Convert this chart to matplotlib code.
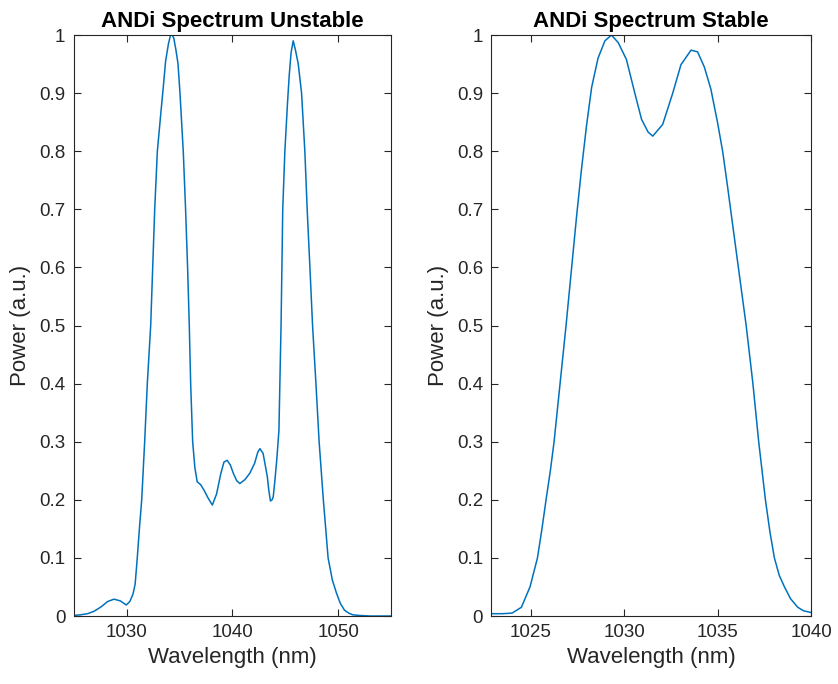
# ANDi spectra, unstable vs stable
import numpy as np
import matplotlib.pyplot as plt

plt.rcParams['font.family'] = ['Liberation Sans', 'DejaVu Sans']

# Unstable spectrum
wl_unstable = [1025, 1025.6, 1026.3, 1026.9, 1027.6, 1028.2, 1028.8, 1029.4, 1029.96, 1030.3,
               1030.6, 1030.8, 1031.0, 1031.2, 1031.42, 1031.7, 1031.95, 1032.27, 1032.46, 1032.65,
               1032.9, 1033.2, 1033.46, 1033.68, 1033.95, 1034.15, 1034.3, 1034.45, 1034.65, 1034.85,
               1035.04, 1035.35, 1035.57, 1035.76, 1035.92, 1036.05, 1036.24, 1036.45, 1036.67, 1037.0,
               1037.3, 1037.7, 1038.1, 1038.5, 1038.9, 1039.2, 1039.5, 1039.8, 1040.1, 1040.4,
               1040.7, 1041.2, 1041.65, 1042.1, 1042.4, 1042.6, 1042.9, 1043.1, 1043.3, 1043.45,
               1043.6, 1043.75, 1043.86, 1044.0, 1044.2, 1044.4, 1044.52, 1044.6, 1044.68, 1044.76,
               1044.96, 1045.2, 1045.37, 1045.55, 1045.75, 1045.95, 1046.22, 1046.54, 1046.85, 1047.07,
               1047.33, 1047.58, 1047.9, 1048.2, 1048.6, 1049.05, 1049.45, 1049.85, 1050.2, 1050.6,
               1051.0, 1051.4, 1052.0, 1053.0, 1054.0, 1055.0]
pow_unstable = [0.001, 0.002, 0.004, 0.008, 0.016, 0.025, 0.029, 0.026, 0.019, 0.025,
                0.038, 0.055, 0.1, 0.15, 0.2, 0.3, 0.4, 0.5, 0.6, 0.7,
                0.8, 0.86, 0.91, 0.955, 0.985, 1.0, 1.0, 0.995, 0.975, 0.951,
                0.9, 0.8, 0.7, 0.6, 0.5, 0.4, 0.3, 0.255, 0.231, 0.226,
                0.217, 0.203, 0.191, 0.21, 0.245, 0.265, 0.268, 0.26, 0.245, 0.233,
                0.228, 0.235, 0.246, 0.263, 0.282, 0.288, 0.28, 0.26, 0.24, 0.215,
                0.198, 0.2, 0.205, 0.23, 0.27, 0.32, 0.43, 0.5, 0.6, 0.7,
                0.8, 0.88, 0.93, 0.97, 0.99, 0.975, 0.951, 0.9, 0.8, 0.7,
                0.6, 0.5, 0.4, 0.3, 0.2, 0.1, 0.062, 0.039, 0.022, 0.01,
                0.005, 0.002, 0.001, 0.0, 0.0, 0.0]

# Stable spectrum
wl_stable = [1022.9, 1023.5, 1024.0, 1024.5, 1024.96, 1025.36, 1025.6, 1025.82, 1026.05, 1026.25,
             1026.57, 1026.89, 1027.19, 1027.46, 1027.72, 1027.99, 1028.26, 1028.6, 1028.97, 1029.32,
             1029.68, 1030.12, 1030.57, 1030.93, 1031.28, 1031.53, 1032.06, 1032.6, 1033.04, 1033.58,
             1033.93, 1034.29, 1034.64, 1035.0, 1035.27, 1035.53, 1035.8, 1036.07, 1036.3, 1036.53,
             1036.89, 1037.2, 1037.56, 1037.8, 1038.04, 1038.3, 1038.58, 1038.9, 1039.29, 1039.6,
             1040.0]
pow_stable = [0.004, 0.004, 0.005, 0.015, 0.05, 0.1, 0.15, 0.2, 0.25, 0.3,
              0.4, 0.5, 0.6, 0.69, 0.77, 0.845, 0.91, 0.96, 0.99, 1.0,
              0.987, 0.958, 0.9, 0.855, 0.833, 0.826, 0.846, 0.9, 0.949, 0.974,
              0.971, 0.945, 0.907, 0.849, 0.8, 0.74, 0.675, 0.61, 0.555, 0.5,
              0.4, 0.3, 0.2, 0.145, 0.1, 0.07, 0.05, 0.03, 0.015, 0.009,
              0.006]

yticks = [0, 0.1, 0.2, 0.3, 0.4, 0.5, 0.6, 0.7, 0.8, 0.9, 1]
ytick_labels = ['0', '0.1', '0.2', '0.3', '0.4', '0.5', '0.6', '0.7', '0.8', '0.9', '1']

line_color = '#0072BD'
axis_color = '#262626'

fig = plt.figure(figsize=(8.38, 6.84), dpi=100)
ax1 = fig.add_axes([0.0881, 0.0994, 0.3785, 0.8494])
ax2 = fig.add_axes([0.5865, 0.0994, 0.3813, 0.8494])

panels = [
    (ax1, wl_unstable, pow_unstable, (1025, 1055), [1030, 1040, 1050], 'ANDi Spectrum Unstable'),
    (ax2, wl_stable, pow_stable, (1022.9, 1040), [1025, 1030, 1035, 1040], 'ANDi Spectrum Stable'),
]

for ax, x, y, xlim, xticks, title in panels:
    ax.plot(x, y, color=line_color, linewidth=1.1)
    ax.set_xlim(xlim)
    ax.set_ylim(0, 1)
    ax.set_xticks(xticks)
    ax.set_xticklabels([str(t) for t in xticks])
    ax.set_yticks(yticks)
    ax.set_yticklabels(ytick_labels)
    ax.tick_params(direction='in', top=True, right=True, length=5, width=0.8,
                   color=axis_color, labelcolor=axis_color, labelsize=13.5, pad=6)
    for s in ax.spines.values():
        s.set_color(axis_color)
        s.set_linewidth(0.8)
    ax.set_xlabel('Wavelength (nm)', fontsize=16, color=axis_color, labelpad=4)
    ax.set_ylabel('Power (a.u.)', fontsize=16, color=axis_color, labelpad=6)
    ax.set_title(title, fontsize=16, fontweight='bold', color='black', pad=6)

plt.savefig('out.png', dpi=100)
